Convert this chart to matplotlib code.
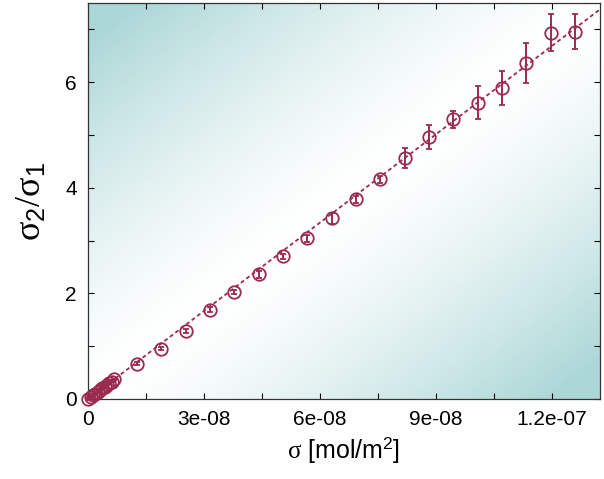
import numpy as np
import matplotlib
matplotlib.use("Agg")
import matplotlib.pyplot as plt
from matplotlib.colors import LinearSegmentedColormap
from matplotlib.ticker import FixedLocator, FixedFormatter, MultipleLocator

# ---------------------------------------------------------
# data
# ---------------------------------------------------------
sigma = [0.0, 0.6e-9, 1.2e-9, 1.8e-9, 2.4e-9, 3.0e-9, 3.6e-9, 4.2e-9,
         4.8e-9, 5.4e-9, 6.0e-9, 6.6e-9,
         1.26e-8, 1.89e-8, 2.52e-8, 3.15e-8, 3.78e-8, 4.41e-8, 5.04e-8,
         5.67e-8, 6.30e-8, 6.93e-8, 7.56e-8, 8.19e-8, 8.82e-8, 9.45e-8,
         1.008e-7, 1.071e-7, 1.134e-7, 1.197e-7, 1.260e-7]
ratio = [0.0, 0.03, 0.07, 0.10, 0.13, 0.17, 0.20, 0.23,
         0.27, 0.30, 0.33, 0.37,
         0.665, 0.95, 1.29, 1.69, 2.02, 2.36, 2.70,
         3.04, 3.42, 3.78, 4.16, 4.56, 4.96, 5.30,
         5.61, 5.89, 6.37, 6.94, 6.96]
ratio_err = [0.01, 0.01, 0.01, 0.01, 0.01, 0.01, 0.01, 0.01,
             0.01, 0.01, 0.01, 0.01,
             0.03, 0.03, 0.04, 0.05, 0.04, 0.06, 0.05,
             0.06, 0.10, 0.07, 0.06, 0.19, 0.22, 0.16,
             0.31, 0.33, 0.38, 0.35, 0.34]

fit_slope = 5.57e7
fit_intercept = 0.0

xtick_vals = [0, 3e-8, 6e-8, 9e-8, 1.2e-7]
xtick_labels = ["0", "3e-08", "6e-08", "9e-08", "1.2e-07"]
ytick_vals = [0, 2, 4, 6]
ytick_labels = ["0", "2", "4", "6"]

# ---------------------------------------------------------
# style
# ---------------------------------------------------------
plt.rcParams["font.family"] = ["Liberation Sans", "DejaVu Sans"]
plt.rcParams["mathtext.fontset"] = "custom"
plt.rcParams["mathtext.rm"] = "Liberation Serif"
plt.rcParams["mathtext.sf"] = "Liberation Sans"
plt.rcParams["mathtext.it"] = "Liberation Serif:italic"

color = "#9a2b4f"

fig = plt.figure(figsize=(6.04, 4.79), dpi=100)
ax = fig.add_axes([88 / 604, 80 / 479, 512 / 604, 396 / 479])

# background gradient (teal corners, white diagonal)
u, v = np.meshgrid(np.linspace(0, 1, 300), np.linspace(1, 0, 300))
shade = np.clip(np.abs(u - v) * 1.1, 0, 1) ** 1.4
cmap = LinearSegmentedColormap.from_list("bg", ["#ffffff", "#acd7d7"])
ax.imshow(shade, cmap=cmap, extent=[0, 1, 0, 1], transform=ax.transAxes,
          aspect="auto", zorder=0, interpolation="bilinear")

xmin, xmax = -0.01e-8, 1.325e-7
ymin, ymax = 0.0, 7.5

# fit line
fx = np.array([xmin, xmax])
ax.plot(fx, fit_intercept + fit_slope * fx, color=color, lw=1.3,
        linestyle=(0, (2.2, 1.6)), zorder=2)

# data
ax.errorbar(sigma, ratio, yerr=ratio_err, fmt="o", mfc="none", mec=color,
            ecolor=color, ms=9, mew=1.3, elinewidth=1.4, capsize=2.5,
            capthick=1.4, zorder=3, clip_on=False)

ax.set_xlim(xmin, xmax)
ax.set_ylim(ymin, ymax)

ax.xaxis.set_major_locator(FixedLocator(xtick_vals))
ax.xaxis.set_major_formatter(FixedFormatter(xtick_labels))
ax.xaxis.set_minor_locator(MultipleLocator(1.5e-8))
ax.yaxis.set_major_locator(FixedLocator(ytick_vals))
ax.yaxis.set_major_formatter(FixedFormatter(ytick_labels))
ax.yaxis.set_minor_locator(MultipleLocator(1))

ax.tick_params(which="both", direction="in", top=True, right=True,
               length=4, width=0.8, labelsize=15, pad=8)

for s in ax.spines.values():
    s.set_linewidth(0.9)
    s.set_color("#333333")

ax.set_xlabel(r"$\mathrm{\sigma}$ [mol/m$^\mathsf{2}$]", fontsize=18, labelpad=4)
ax.set_ylabel(r"$\mathrm{\sigma}_\mathsf{2}/\mathrm{\sigma}_\mathsf{1}$",
              fontsize=26, labelpad=12)

fig.savefig("out.png", dpi=100)
